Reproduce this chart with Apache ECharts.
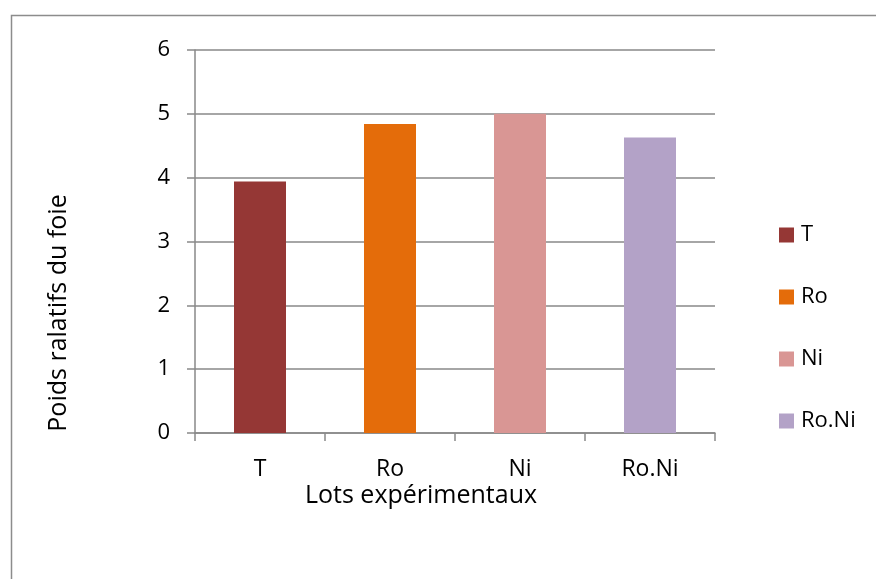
<!DOCTYPE html>
<html>
<head>
<meta charset="utf-8">
<script src="https://cdn.jsdelivr.net/npm/echarts@6/dist/echarts.min.js"></script>
<style>
  html, body { margin: 0; padding: 0; background: #fff; }
  #chart { width: 876px; height: 579px; }
</style>
</head>
<body>
<div id="chart"></div>
<script>
// Relative liver weight per experimental group
const categories = ['T', 'Ro', 'Ni', 'Ro.Ni'];
const values = [3.94, 4.84, 5.0, 4.63];
const colors = ['#953735', '#E46C0A', '#D99694', '#B3A2C7'];
const yTicks = { min: 0, max: 6, interval: 1 };

const FONT = '"Open Sans", Lato, sans-serif';
const AXIS_GREY = '#898989';

// One series per group so each gets its own legend entry;
// barGap -100% keeps every bar centred on its category.
const series = categories.map((name, i) => ({
  name: name,
  type: 'bar',
  barWidth: '40%',
  barGap: '-100%',
  itemStyle: { color: colors[i] },
  data: categories.map((c, j) => (j === i ? values[i] : '-'))
}));

const chart = echarts.init(document.getElementById('chart'), null, { renderer: 'canvas' });
chart.setOption({
  animation: false,
  backgroundColor: '#fff',
  textStyle: { fontFamily: FONT, color: '#000' },
  grid: { left: 195, right: 161, top: 50, bottom: 146, containLabel: false },
  legend: {
    orient: 'vertical',
    left: 779,
    top: 224,
    padding: 0,
    itemWidth: 15,
    itemHeight: 15,
    itemGap: 40,
    icon: 'rect',
    data: categories,
    textStyle: { fontFamily: FONT, fontSize: 22, lineHeight: 15, color: '#000', padding: [0, 0, 0, 2] }
  },
  xAxis: {
    type: 'category',
    data: categories,
    axisLine: { lineStyle: { color: AXIS_GREY, width: 1.5 } },
    axisTick: { show: true, length: 8, alignWithLabel: false, lineStyle: { color: AXIS_GREY, width: 1.5 } },
    axisLabel: { fontFamily: FONT, fontSize: 23, color: '#000', margin: 25 },
    splitLine: { show: false }
  },
  yAxis: {
    type: 'value',
    min: yTicks.min,
    max: yTicks.max,
    interval: yTicks.interval,
    axisLine: { show: true, lineStyle: { color: AXIS_GREY, width: 1.5 } },
    axisTick: { show: true, length: 8, lineStyle: { color: AXIS_GREY, width: 1.5 } },
    axisLabel: { fontFamily: FONT, fontSize: 22, color: '#000', margin: 25 },
    splitLine: { show: true, lineStyle: { color: AXIS_GREY, width: 1.5 } }
  },
  graphic: [
    {
      type: 'rect',
      left: 9, top: 13,
      shape: { width: 1000, height: 1000 },
      style: { fill: 'none', stroke: '#8c8c8c', lineWidth: 1.5 },
      silent: true, z: -10
    },
    {
      type: 'text',
      x: 421, y: 496,
      style: {
        text: 'Lots expérimentaux',
        fontFamily: FONT, fontSize: 25, fill: '#000',
        align: 'center', verticalAlign: 'middle'
      }
    },
    {
      type: 'text',
      x: 59, y: 313,
      rotation: Math.PI / 2,
      style: {
        text: 'Poids ralatifs du foie',
        fontFamily: FONT, fontSize: 25, fill: '#000',
        align: 'center', verticalAlign: 'middle'
      }
    }
  ],
  series: series
});
</script>
</body>
</html>
